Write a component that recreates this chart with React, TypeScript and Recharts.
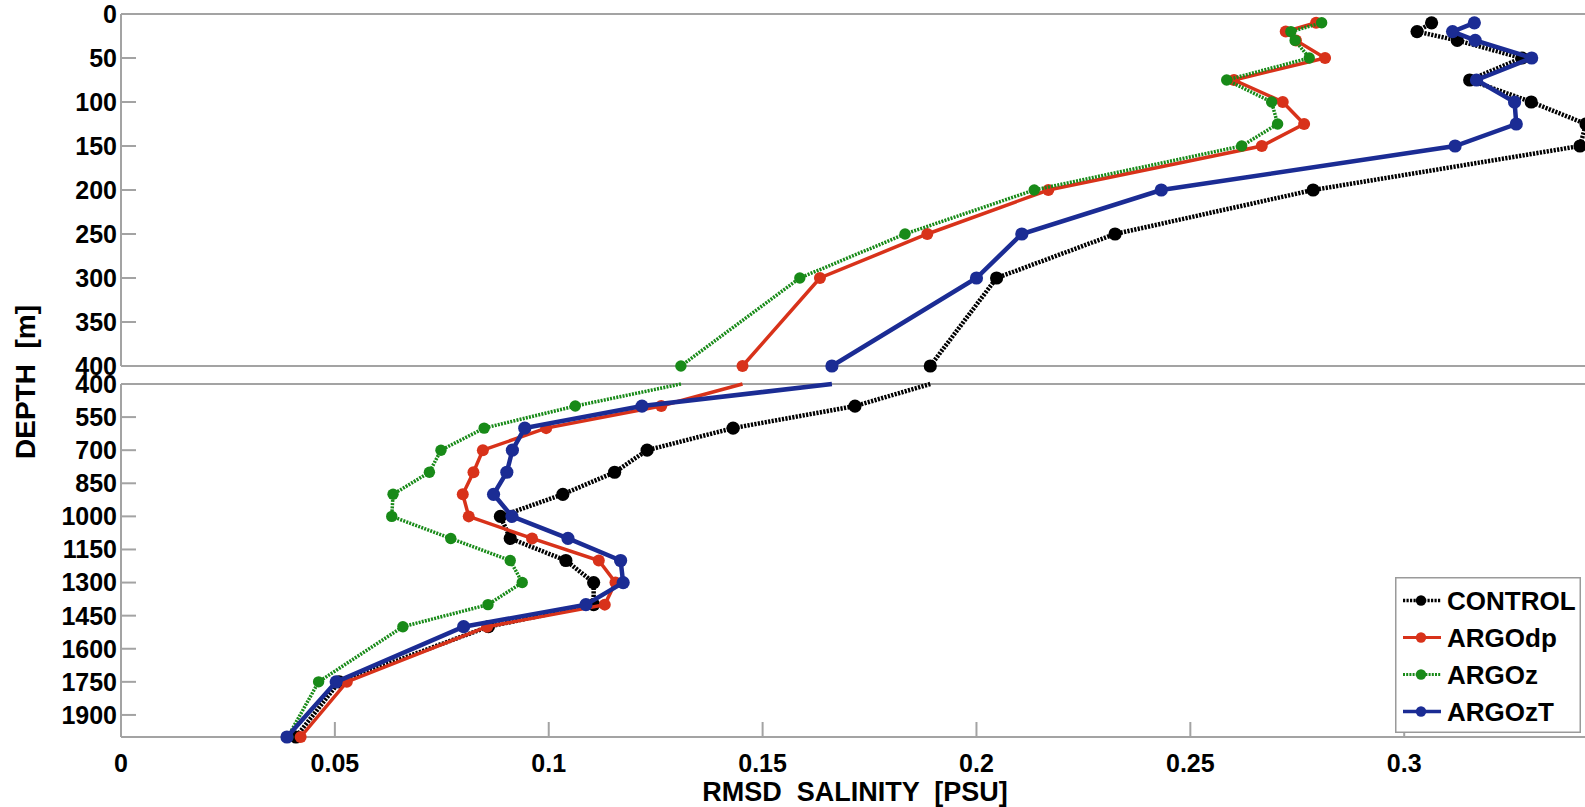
import React from 'react';
import { ScatterChart, Scatter, XAxis, YAxis, Legend } from 'recharts';

// ---------- data ----------
const DEPTHS = [10, 20, 30, 50, 75, 100, 125, 150, 200, 250, 300, 400, 500, 600, 700, 800, 900, 1000, 1100, 1200, 1300, 1400, 1500, 1750, 2000];

const CONTROL = [0.3064, 0.3030, 0.3124, 0.3275, 0.3153, 0.3297, 0.3425, 0.3411, 0.2787, 0.2324, 0.2047, 0.1892,
  0.1716, 0.1431, 0.1230, 0.1154, 0.1033, 0.0887, 0.0910, 0.1040, 0.1105, 0.1105, 0.0859, 0.0510, 0.0409];
const ARGODP = [0.2794, 0.2723, 0.2747, 0.2815, 0.2602, 0.2716, 0.2766, 0.2667, 0.2168, 0.1885, 0.1634, 0.1453,
  0.1263, 0.0994, 0.0846, 0.0824, 0.0799, 0.0813, 0.0961, 0.1117, 0.1156, 0.1131, 0.0856, 0.0528, 0.0420];
const ARGOZ = [0.2807, 0.2735, 0.2745, 0.2778, 0.2585, 0.2690, 0.2704, 0.2620, 0.2135, 0.1833, 0.1587, 0.1309,
  0.1062, 0.0849, 0.0748, 0.0721, 0.0636, 0.0633, 0.0771, 0.0910, 0.0938, 0.0858, 0.0659, 0.0462, 0.0390];
const ARGOZT = [0.3164, 0.3113, 0.3166, 0.3298, 0.3169, 0.3258, 0.3262, 0.3119, 0.2432, 0.2106, 0.2000, 0.1662,
  0.1218, 0.0944, 0.0915, 0.0902, 0.0871, 0.0914, 0.1045, 0.1168, 0.1174, 0.1087, 0.0801, 0.0503, 0.0388];

const SERIES_NAMES = ['CONTROL', 'ARGOdp', 'ARGOz', 'ARGOzT'];
const X_TICKS = [0, 0.05, 0.1, 0.15, 0.2, 0.25, 0.3];
const X_MAX = 0.3425;
const TOP_TICKS = [0, 50, 100, 150, 200, 250, 300, 350, 400];
const BOTTOM_TICKS = [400, 550, 700, 850, 1000, 1150, 1300, 1450, 1600, 1750, 1900];
const BREAK_DEPTH = 400;
const MAX_DEPTH = 2000;
const X_LABEL = 'RMSD  SALINITY  [PSU]';
const Y_LABEL = 'DEPTH  [m]';

// ---------- styles ----------
const FONT = '"Liberation Sans", Arial, Helvetica, sans-serif';
const AXIS_COLOR = '#a3a3a3';
const STYLES = [
  { values: CONTROL, color: '#000000', width: 4.5, dash: '2.2 1.3', r: 6.6 },
  { values: ARGODP, color: '#d8321a', width: 3.5, dash: undefined, r: 6 },
  { values: ARGOZ, color: '#188a18', width: 3.5, dash: '2 1.2', r: 5.7 },
  { values: ARGOZT, color: '#1b2c94', width: 4.5, dash: undefined, r: 6.6 },
];

const tickStyle = { fontSize: 25, fontWeight: 'bold', fill: '#000', fontFamily: FONT };

function rows(values: number[], from: number, to: number) {
  return DEPTHS.map((d, i) => ({ depth: d, value: values[i] })).filter((p) => p.depth >= from && p.depth <= to);
}

function LegendBox() {
  return (
    <svg width={186} height={156} style={{ display: 'block', fontFamily: FONT }}>
      <rect x={0.75} y={0.75} width={184.5} height={154.5} fill="#fff" stroke="#9a9a9a" strokeWidth={1.5} />
      {SERIES_NAMES.map((name, i) => {
        const s = STYLES[i];
        const cy = 23.5 + i * 37;
        return (
          <g key={name}>
            <line x1={8} x2={46} y1={cy} y2={cy} stroke={s.color} strokeWidth={s.width * 0.8} strokeDasharray={s.dash} />
            <circle cx={26} cy={cy} r={5.2} fill={s.color} />
            <text x={52} y={cy} dominantBaseline="central" fontSize={26} fontWeight="bold" fill="#000">{name}</text>
          </g>
        );
      })}
    </svg>
  );
}

type PanelProps = {
  top: number;
  height: number;
  from: number;
  to: number;
  yTicks: number[];
  bottomAxisHeight: number;
  showXLabels: boolean;
  hideMarkerAtTop: boolean;
  showLegend: boolean;
};

function Panel(p: PanelProps) {
  return (
    <div style={{ position: 'absolute', left: 0, top: p.top }}>
      <ScatterChart width={1590} height={p.height} margin={{ top: 13, right: 3, bottom: p.showXLabels ? 0 : 13, left: 120 }}>
        <XAxis
          xAxisId="b"
          type="number"
          dataKey="value"
          domain={[0, X_MAX]}
          ticks={X_TICKS}
          interval={0}
          height={p.bottomAxisHeight}
          tickSize={-15}
          tickMargin={32}
          tick={p.showXLabels ? tickStyle : false}
          tickFormatter={(v: number) => String(v)}
          axisLine={{ stroke: AXIS_COLOR, strokeWidth: 2 }}
          tickLine={{ stroke: AXIS_COLOR, strokeWidth: 2 }}
        />
        <XAxis
          xAxisId="t"
          orientation="top"
          type="number"
          domain={[0, X_MAX]}
          allowDataOverflow
          ticks={X_TICKS}
          interval={0}
          height={1}
          tickSize={-15}
          tick={false}
          axisLine={{ stroke: AXIS_COLOR, strokeWidth: 2 }}
          tickLine={{ stroke: AXIS_COLOR, strokeWidth: 2 }}
        />
        <YAxis
          yAxisId="l"
          type="number"
          dataKey="depth"
          reversed
          domain={[p.from, p.to]}
          ticks={p.yTicks}
          interval={0}
          width={1}
          tickSize={-15}
          tickMargin={19}
          tick={tickStyle}
          axisLine={{ stroke: AXIS_COLOR, strokeWidth: 2 }}
          tickLine={{ stroke: AXIS_COLOR, strokeWidth: 2 }}
        />
        <YAxis
          yAxisId="r"
          orientation="right"
          type="number"
          reversed
          domain={[p.from, p.to]}
          allowDataOverflow
          ticks={p.yTicks}
          interval={0}
          width={1}
          tickSize={-15}
          tick={false}
          axisLine={{ stroke: AXIS_COLOR, strokeWidth: 2 }}
          tickLine={{ stroke: AXIS_COLOR, strokeWidth: 2 }}
        />
        {SERIES_NAMES.map((name, i) => {
          const s = STYLES[i];
          return (
            <Scatter
              key={name}
              name={name}
              xAxisId="b"
              yAxisId="l"
              data={rows(s.values, p.from, p.to)}
              fill={s.color}
              isAnimationActive={false}
              line={{ stroke: s.color, strokeWidth: s.width, strokeDasharray: s.dash }}
              lineType="joint"
              shape={(props: any) => {
                if (p.hideMarkerAtTop && props.payload && props.payload.depth === p.from) return <g />;
                return <circle cx={props.cx} cy={props.cy} r={s.r} fill={s.color} />;
              }}
            />
          );
        })}
        {p.showLegend && (
          <Legend
            layout="vertical"
            align="center"
            verticalAlign="middle"
            content={() => <LegendBox />}
            wrapperStyle={{ position: 'absolute', left: 1395, top: 207, width: 186, height: 156, margin: 0, padding: 0 }}
          />
        )}
      </ScatterChart>
    </div>
  );
}

export default function App() {
  return (
    <div style={{ position: 'absolute', left: 0, top: 0, width: 1585, height: 807, overflow: 'hidden', background: '#fff', fontFamily: FONT }}>
      <Panel top={0} height={380} from={0} to={BREAK_DEPTH} yTicks={TOP_TICKS} bottomAxisHeight={1} showXLabels={false} hideMarkerAtTop={false} showLegend={false} />
      <Panel top={370} height={437} from={BREAK_DEPTH} to={MAX_DEPTH} yTicks={BOTTOM_TICKS} bottomAxisHeight={70} showXLabels hideMarkerAtTop showLegend />
      <svg width={1585} height={807} style={{ position: 'absolute', left: 0, top: 0, pointerEvents: 'none' }}>
        <text
          x={35}
          y={382}
          transform="rotate(-90 35 382)"
          textAnchor="middle"
          fontSize={28}
          fontWeight="bold"
          fill="#000"
          fontFamily={FONT}
          style={{ whiteSpace: 'pre' }}
        >
          {Y_LABEL}
        </text>
        <text
          x={855}
          y={801}
          textAnchor="middle"
          fontSize={27}
          fontWeight="bold"
          fill="#000"
          fontFamily={FONT}
          style={{ whiteSpace: 'pre' }}
        >
          {X_LABEL}
        </text>
      </svg>
    </div>
  );
}
